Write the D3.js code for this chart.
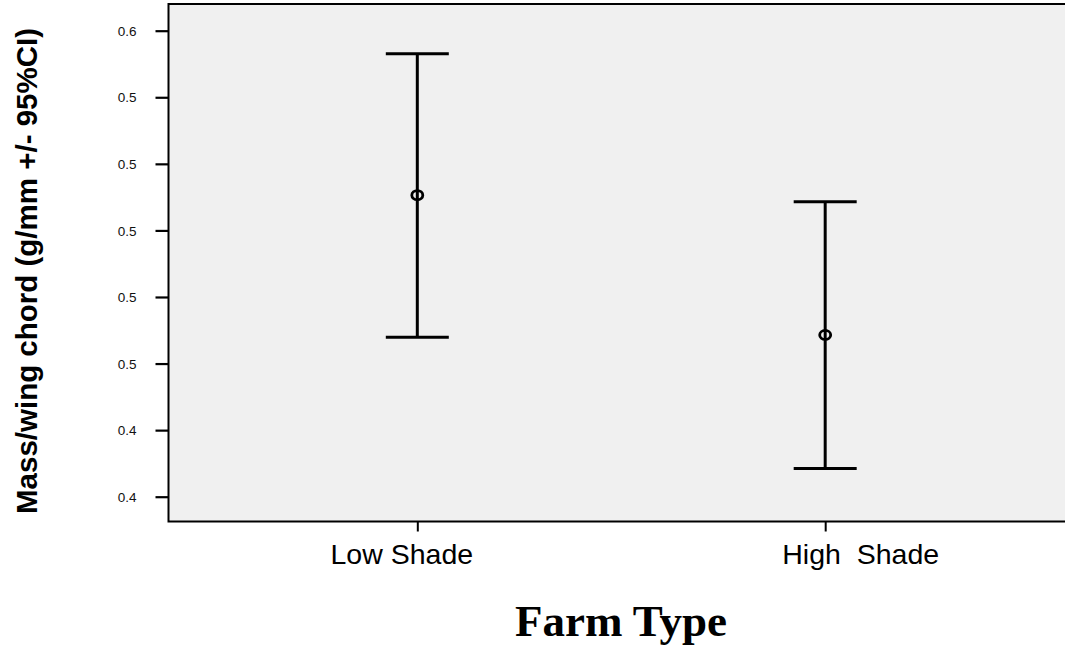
<!DOCTYPE html>
<html>
<head>
<meta charset="utf-8">
<script src="https://cdn.jsdelivr.net/npm/d3@7"></script>
<style>
  html, body { margin: 0; padding: 0; background: #ffffff; }
  svg { display: block; }
</style>
</head>
<body>
<svg id="chart" width="1065" height="650"></svg>
<script>
// Farm types and their mean mass / wing chord with 95% confidence limits
const categories = ["Low Shade", "High  Shade"];
const means      = [0.5106, 0.4686];
const lowerCI    = [0.4679, 0.4285];
const upperCI    = [0.5531, 0.5086];

// Y-axis ticks (labels are printed rounded to one decimal)
const yTickValues = [0.56, 0.54, 0.52, 0.50, 0.48, 0.46, 0.44, 0.42];
const yTickLabels = ["0.6", "0.5", "0.5", "0.5", "0.5", "0.5", "0.4", "0.4"];

const svg = d3.select("#chart");

const plot = { left: 168.5, right: 1074, top: 4, bottom: 521.5 };

const x = d3.scalePoint()
  .domain(categories)
  .range([plot.left, plot.right])
  .padding(0.61);

const y = d3.scaleLinear()
  .domain([0.41255, 0.56802])
  .range([plot.bottom, plot.top]);

// plot background and frame
svg.append("rect")
  .attr("x", plot.left)
  .attr("y", plot.top)
  .attr("width", plot.right - plot.left)
  .attr("height", plot.bottom - plot.top)
  .attr("fill", "#f0f0f0")
  .attr("stroke", "#000")
  .attr("stroke-width", 2);

// y axis
const yAxis = svg.append("g")
  .attr("transform", `translate(${plot.left},0)`)
  .call(d3.axisLeft(y)
    .tickValues(yTickValues)
    .tickFormat((d, i) => yTickLabels[i])
    .tickSize(13)
    .tickPadding(19));
yAxis.select(".domain").remove();
yAxis.selectAll(".tick line").attr("stroke", "#000").attr("stroke-width", 2.2);
yAxis.selectAll(".tick text")
  .attr("fill", "#111")
  .style("font-family", "'Liberation Sans', Arial, sans-serif")
  .style("font-size", "13.5px")
  .attr("dy", "0.34em");

// x axis
const labelShift = [-16, 35];
const xAxis = svg.append("g")
  .attr("transform", `translate(0,${plot.bottom})`)
  .call(d3.axisBottom(x).tickSize(10).tickPadding(12));
xAxis.select(".domain").remove();
xAxis.selectAll(".tick line").attr("stroke", "#000").attr("stroke-width", 2);
xAxis.selectAll(".tick text")
  .attr("fill", "#000")
  .attr("xml:space", "preserve")
  .style("white-space", "pre")
  .style("font-family", "'Liberation Sans', Arial, sans-serif")
  .style("font-size", "28.5px")
  .attr("dx", (d, i) => labelShift[i]);

// error bars
const capHalf = 31.5;
const bars = svg.append("g")
  .selectAll("g")
  .data(categories.map((c, i) => ({ c, m: means[i], lo: lowerCI[i], hi: upperCI[i] })))
  .join("g")
  .attr("stroke", "#000")
  .attr("fill", "none");

bars.append("line")
  .attr("x1", d => x(d.c)).attr("x2", d => x(d.c))
  .attr("y1", d => y(d.hi)).attr("y2", d => y(d.lo))
  .attr("stroke-width", 3);

bars.append("line")
  .attr("x1", d => x(d.c) - capHalf).attr("x2", d => x(d.c) + capHalf)
  .attr("y1", d => y(d.hi)).attr("y2", d => y(d.hi))
  .attr("stroke-width", 3);

bars.append("line")
  .attr("x1", d => x(d.c) - capHalf).attr("x2", d => x(d.c) + capHalf)
  .attr("y1", d => y(d.lo)).attr("y2", d => y(d.lo))
  .attr("stroke-width", 3);

bars.append("ellipse")
  .attr("cx", d => x(d.c))
  .attr("cy", d => y(d.m))
  .attr("rx", 5.5)
  .attr("ry", 4.5)
  .attr("stroke-width", 2.8);

// axis titles
svg.append("text")
  .attr("transform", "translate(37,271) rotate(-90)")
  .attr("text-anchor", "middle")
  .style("font-family", "'Liberation Sans', Arial, sans-serif")
  .style("font-weight", "bold")
  .style("font-size", "29.5px")
  .text("Mass/wing chord (g/mm +/- 95%CI)");

svg.append("text")
  .attr("x", 621)
  .attr("y", 636)
  .attr("text-anchor", "middle")
  .style("font-family", "'Liberation Serif', 'Times New Roman', serif")
  .style("font-weight", "bold")
  .style("font-size", "45px")
  .text("Farm Type");
</script>
</body>
</html>
